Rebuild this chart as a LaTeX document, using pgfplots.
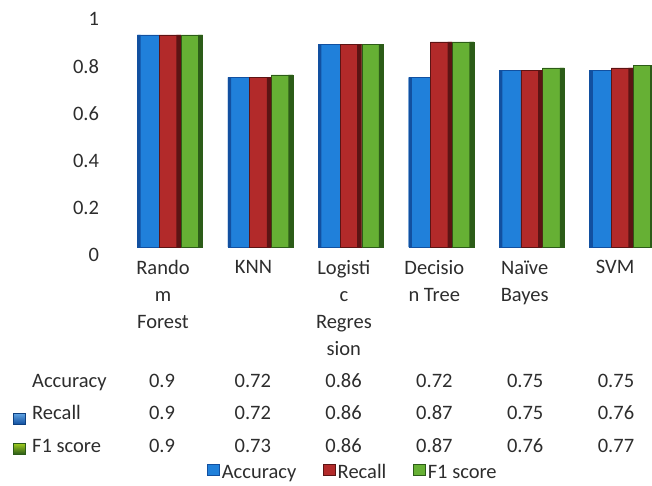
\documentclass[border=0pt]{standalone}
\usepackage{fontspec}
\setmainfont{Carlito}
\usepackage{pgfplots}
\usepackage{pgfplotstable}
\pgfplotsset{compat=1.18}

\definecolor{accmid}{RGB}{32,128,218}
\definecolor{accedge}{RGB}{18,80,160}
\definecolor{recmid}{RGB}{178,42,42}
\definecolor{recedge}{RGB}{92,20,20}
\definecolor{f1mid}{RGB}{102,176,52}
\definecolor{f1edge}{RGB}{44,92,24}
\definecolor{txt}{RGB}{45,45,45}

% scores per model: 0 Random Forest, 1 KNN, 2 Logistic Regression,
% 3 Decision Tree, 4 Naive Bayes, 5 SVM
\pgfplotstableread{
idx acc  rec  f1
0   0.9  0.9  0.9
1   0.72 0.72 0.73
2   0.86 0.86 0.86
3   0.72 0.87 0.87
4   0.75 0.75 0.76
5   0.75 0.76 0.77
}\scores

\newcommand\lblfont{\fontsize{20.5}{27}\selectfont}

\tikzset{
  accbar/.style={fill=accmid, draw=accedge, line width=0.4pt},
  recbar/.style={fill=recmid, draw=recedge, line width=0.4pt},
  f1bar/.style={fill=f1mid, draw=f1edge, line width=0.4pt},
  accbox/.style={top color=accmid!70!white, bottom color=accedge, draw=accedge!80!black, line width=0.4pt},
  recbox/.style={top color=recmid!70!white, bottom color=recedge, draw=recedge, line width=0.4pt},
  f1box/.style={top color=f1mid!60!yellow, bottom color=f1edge, draw=f1edge, line width=0.4pt},
}

% small square legend markers
\pgfplotsset{
  ybar legend/.style={
    /pgfplots/legend image code/.code={\path[##1, bar shift=0pt] (0pt,-1pt) rectangle (12pt,10pt);}},
}

\begin{document}
\begin{tikzpicture}
\useasboundingbox (0,0) rectangle (652pt,-485pt);
\begin{axis}[
  at={(108.5pt,-247pt)}, anchor=south west,
  scale only axis, width=543.5pt, height=247pt,
  xmin=-0.68, xmax=5.33, ymin=0, ymax=1.048,
  axis line style={draw=none}, major tick length=0pt,
  ytick={0,0.2,0.4,0.6,0.8,1},
  yticklabels={0,0.2,0.4,0.6,0.8,1},
  yticklabel style={xshift=-6pt, yshift=-8pt},
  xtick={0,1,2,3,4,5},
  xticklabels={Rando\\m\\Forest, KNN, Logisti\\c\\Regres\\sion, Decisio\\n Tree, Naïve\\Bayes, SVM},
  xticklabel style={align=center, xshift=-7pt, yshift=-10pt},
  tick label style={font=\lblfont, text=txt},
  ybar=0pt, bar width=0.24,
  legend columns=3,
  legend cell align=left,
  legend style={draw=none, fill=none, font=\lblfont, text=txt,
    at={(axis description cs:0.45,-0.92)}, anchor=center,
    nodes={inner sep=2.5pt, text height=14pt, text depth=5pt},
    /tikz/every even column/.append style={column sep=24pt}},
]
% front faces of the bars
\addplot[accbar, bar shift=-0.24] table[x=idx, y=acc] {\scores};
\addplot[recbar, bar shift=0] table[x=idx, y=rec] {\scores};
\addplot[f1bar, bar shift=0.24] table[x=idx, y=f1] {\scores};
\legend{Accuracy, Recall, F1 score}
% shaded side edges that give the bars their depth
\addplot[forget plot, fill=accedge, draw=none, bar width=0.035, bar shift=-0.3425] table[x=idx, y=acc] {\scores};
\addplot[forget plot, fill=recedge, draw=none, bar width=0.05, bar shift=0.095] table[x=idx, y=rec] {\scores};
\addplot[forget plot, fill=f1edge, draw=none, bar width=0.05, bar shift=0.335] table[x=idx, y=f1] {\scores};
\end{axis}

% data table under the chart
\begin{scope}[every node/.style={font=\lblfont, text=txt}]
\node[anchor=base west, inner sep=0pt] at (32pt,-387pt) {Accuracy};
\node[anchor=base west, inner sep=0pt] at (32pt,-419pt) {Recall};
\node[anchor=base west, inner sep=0pt] at (32pt,-452pt) {F1 score};
\path[accbox] (13pt,-424pt) rectangle (25pt,-413pt);
\path[f1box] (13pt,-454pt) rectangle (25pt,-443pt);
\foreach \i in {0,...,5} {
  \pgfmathsetmacro\xc{162+90.8*\i}
  \pgfplotstablegetelem{\i}{acc}\of\scores
  \node[anchor=base] at (\xc pt,-387pt) {\pgfplotsretval};
  \pgfplotstablegetelem{\i}{rec}\of\scores
  \node[anchor=base] at (\xc pt,-419pt) {\pgfplotsretval};
  \pgfplotstablegetelem{\i}{f1}\of\scores
  \node[anchor=base] at (\xc pt,-452pt) {\pgfplotsretval};
}
\end{scope}
\end{tikzpicture}
\end{document}
